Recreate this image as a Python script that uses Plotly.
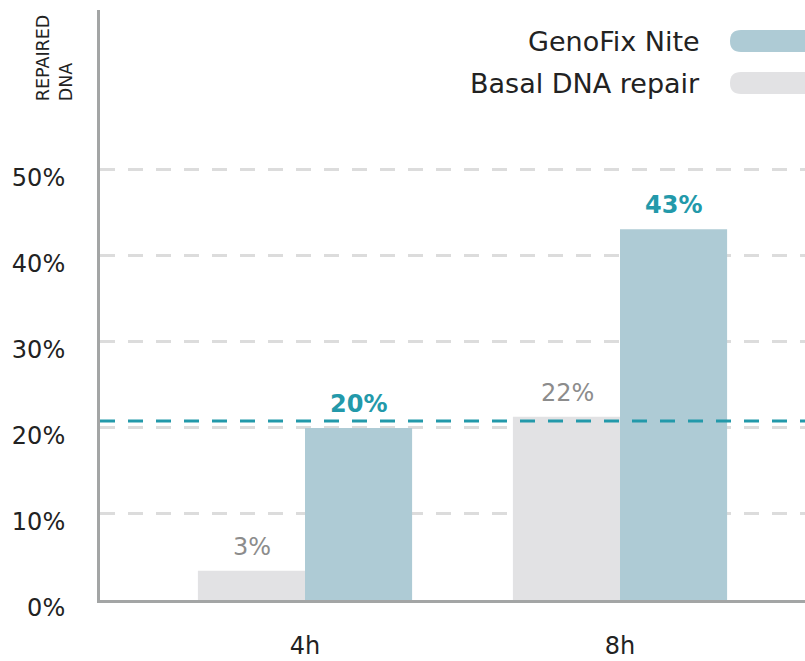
import plotly.graph_objects as go

# ---- data ----
categories = ["4h", "8h"]
basal_values = [0.034, 0.213]
basal_labels = ["3%", "22%"]
genofix_values = [0.200, 0.431]
genofix_labels = ["20%", "43%"]
reference_level = 0.208
y_tickvals = [0, 0.1, 0.2, 0.3, 0.4, 0.5]
y_ticktext = ["0%", "10%", "20%", "30%", "40%", "50%"]
series_names = ["GenoFix Nite", "Basal DNA repair"]

FONT = "'DejaVu Sans', sans-serif"
TEAL = "#2399aa"
GENO = "#aecbd5"
BASAL = "#e2e2e4"
GRID = "#dcdcdc"
AXIS = "#a3a5a5"
PW = 705  # plot width in px

fig = go.Figure()
fig.add_trace(go.Bar(x=categories, y=basal_values, name=series_names[1],
                     marker=dict(color=BASAL, line=dict(width=0)), showlegend=False))
fig.add_trace(go.Bar(x=categories, y=genofix_values, name=series_names[0],
                     marker=dict(color=GENO, line=dict(width=0)), showlegend=False))

annotations = []
for c, v, t in zip(categories, basal_values, basal_labels):
    annotations.append(dict(x=c, y=v, xref="x", yref="y", text=t, showarrow=False,
                            xshift=-53, yshift=8, yanchor="bottom",
                            font=dict(family=FONT, size=24, color="#8c8c8c")))
for c, v, t in zip(categories, genofix_values, genofix_labels):
    annotations.append(dict(x=c, y=v, xref="x", yref="y", text="<b>" + t + "</b>", showarrow=False,
                            xshift=53, yshift=8, yanchor="bottom",
                            font=dict(family=FONT, size=24, color=TEAL)))

# legend (right-aligned text with rounded swatches on the right)
legend_y = [0.947, 0.875]
for name, yy in zip(series_names, legend_y):
    annotations.append(dict(x=602 / PW, y=yy, xref="paper", yref="paper", text=name,
                            showarrow=False, xanchor="right", yanchor="middle",
                            font=dict(family=FONT, size=27, color="#222222")))

# axis title
annotations.append(dict(x=-46 / PW, y=0.842, xref="paper", yref="paper",
                        text="REPAIRED<br>DNA", textangle=-90, showarrow=False,
                        xanchor="center", yanchor="bottom", align="left",
                        font=dict(family=FONT, size=17.5, color="#222222")))

def pill(x0, x1, y0, y1, color):
    rx = 11 / PW
    ym = (y0 + y1) / 2
    path = (f"M {x0+rx},{y1} L {x1},{y1} L {x1},{y0} L {x0+rx},{y0} "
            f"Q {x0},{y0} {x0},{ym} Q {x0},{y1} {x0+rx},{y1} Z")
    return dict(type="path", xref="paper", yref="paper", path=path,
                fillcolor=color, line=dict(width=0), layer="above")

shapes = [
    pill(630 / PW, 1.06, 0.9288, 0.9661, GENO),
    pill(630 / PW, 1.06, 0.8576, 0.8949, BASAL),
    dict(type="line", xref="paper", yref="y", x0=0, x1=1, y0=reference_level, y1=reference_level,
         line=dict(color=TEAL, width=3, dash="15px,13px"), layer="above"),
]

fig.update_layout(
    width=805, height=661,
    margin=dict(l=100, r=0, t=10, b=61, autoexpand=False),
    paper_bgcolor="white", plot_bgcolor="white",
    barmode="group", bargap=0.32, bargroupgap=0,
    annotations=annotations, shapes=shapes,
    font=dict(family=FONT, color="#222222"),
    showlegend=False,
)
fig.update_xaxes(range=[-0.6508, -0.6508 + PW / 315], showgrid=False, zeroline=False, automargin=False,
                 showline=True, linecolor=AXIS, linewidth=3,
                 ticks="", tickfont=dict(family=FONT, size=24, color="#222222"),
                 ticklabelstandoff=22)
fig.update_yaxes(range=[0, 0.686], tickvals=y_tickvals, ticktext=y_ticktext, automargin=False,
                 showgrid=True, gridcolor=GRID, gridwidth=3, griddash="15px,13px",
                 zeroline=False, showline=True, linecolor=AXIS, linewidth=3,
                 ticks="", tickfont=dict(family=FONT, size=24, color="#222222"),
                 ticklabelstandoff=27, ticklabelshift=8)

fig.write_html("out.html", config={"displayModeBar": False},
               post_script="document.body.style.margin='0px';")
